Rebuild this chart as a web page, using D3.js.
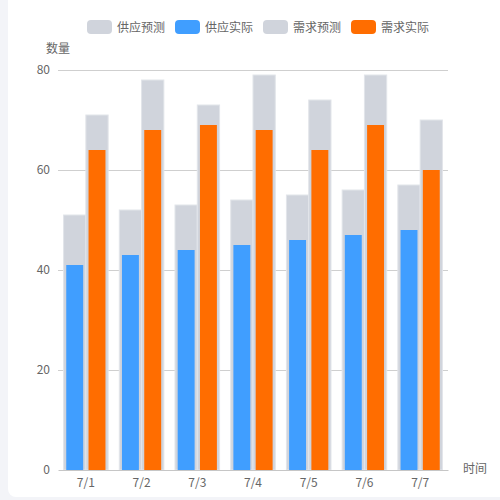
<!DOCTYPE html>
<html>
<head>
<meta charset="utf-8">
<script src="https://cdn.jsdelivr.net/npm/d3@7"></script>
<style>
    body { margin: 0; background: #f3f4f8; }
    svg { display: block; }
    text { font-family: "Noto Sans CJK SC", "Noto Sans", sans-serif; }
</style>
</head>
<body>
<div id="chart"></div>
<script>
// data
let days = ["7/1", "7/2", "7/3", "7/4", "7/5", "7/6", "7/7"];
let supplyForecast = [51, 52, 53, 54, 55, 56, 57];
let supplyActual = [41, 43, 44, 45, 46, 47, 48];
let demandForecast = [71, 78, 73, 79, 74, 79, 70];
let demandActual = [64, 68, 69, 68, 64, 69, 60];
let yTicks = [0, 20, 40, 60, 80];
let legendNames = ["供应预测", "供应实际", "需求预测", "需求实际"];
let legendColors = ["#d0d4dc", "#409eff", "#d0d4dc", "#ff6d00"];

function init() {
    let width = 500;
    let height = 500;
    let left = 58, right = 448, top = 70, bottom = 470;

    let svg = d3.select("#chart")
        .append("svg")
        .attr("width", width)
        .attr("height", height);

    // white card
    svg.append("rect")
        .attr("x", 8).attr("y", -10)
        .attr("width", 520).attr("height", 507)
        .attr("rx", 8)
        .attr("fill", "#fff");

    let xScale = d3.scaleBand()
        .domain(days)
        .range([left, right])
        .paddingInner(0.2)
        .paddingOuter(0.1);
    let inner = d3.scaleBand()
        .domain(["supply", "demand"])
        .range([0, xScale.bandwidth()]);
    let yScale = d3.scaleLinear()
        .domain([0, 80])
        .range([bottom, top]);

    // grid lines
    svg.append("g")
        .selectAll("line")
        .data(yTicks.slice(1))
        .enter().append("line")
        .attr("x1", left).attr("x2", right)
        .attr("y1", d => yScale(d) + 0.5).attr("y2", d => yScale(d) + 0.5)
        .attr("stroke", "#cfcfcf");

    // y axis labels
    let yAxis = svg.append("g")
        .attr("transform", "translate(" + left + ",0)")
        .call(d3.axisLeft(yScale).tickValues(yTicks).tickSize(0).tickPadding(8));
    yAxis.select(".domain").remove();
    yAxis.selectAll("text").attr("fill", "#666").style("font-size", "12px");

    // bars
    let groups = [
        { key: "supply", forecast: supplyForecast, actual: supplyActual, color: legendColors[1] },
        { key: "demand", forecast: demandForecast, actual: demandActual, color: legendColors[3] }
    ];
    let w = inner.bandwidth();
    let aw = w * 0.76;
    groups.forEach(function (g) {
        svg.append("g")
            .selectAll("rect")
            .data(days)
            .enter().append("rect")
            .attr("x", (d, i) => xScale(d) + inner(g.key))
            .attr("y", (d, i) => yScale(g.forecast[i]))
            .attr("width", w)
            .attr("height", (d, i) => yScale(0) - yScale(g.forecast[i]))
            .attr("fill", legendColors[0])
            .attr("stroke", "#e2e5ea")
            .attr("stroke-width", 1);
        svg.append("g")
            .selectAll("rect")
            .data(days)
            .enter().append("rect")
            .attr("x", (d, i) => xScale(d) + inner(g.key) + (w - aw) / 2)
            .attr("y", (d, i) => yScale(g.actual[i]))
            .attr("width", aw)
            .attr("height", (d, i) => yScale(0) - yScale(g.actual[i]))
            .attr("fill", g.color);
    });

    // x axis
    let xAxis = svg.append("g")
        .attr("transform", "translate(0," + bottom + ")")
        .call(d3.axisBottom(xScale).tickSize(0).tickPadding(8));
    xAxis.select(".domain").attr("stroke", "#c6c6c6");
    xAxis.selectAll("text").attr("fill", "#666").style("font-size", "12px");

    // axis names
    svg.append("text")
        .attr("x", 46).attr("y", 53)
        .attr("fill", "#666").style("font-size", "12px")
        .text("数量");
    svg.append("text")
        .attr("x", 463).attr("y", 473)
        .attr("fill", "#666").style("font-size", "12px")
        .text("时间");

    // legend
    let legend = svg.append("g")
        .selectAll("g")
        .data(legendNames)
        .enter().append("g")
        .attr("transform", (d, i) => "translate(" + (87 + i * 88) + ",20)");
    legend.append("rect")
        .attr("width", 25).attr("height", 14)
        .attr("rx", 4)
        .attr("fill", (d, i) => legendColors[i]);
    legend.append("text")
        .attr("x", 30).attr("y", 11.5)
        .attr("fill", "#666").style("font-size", "12px")
        .text(d => d);
}

window.addEventListener('load', init);
</script>
</body>
</html>
